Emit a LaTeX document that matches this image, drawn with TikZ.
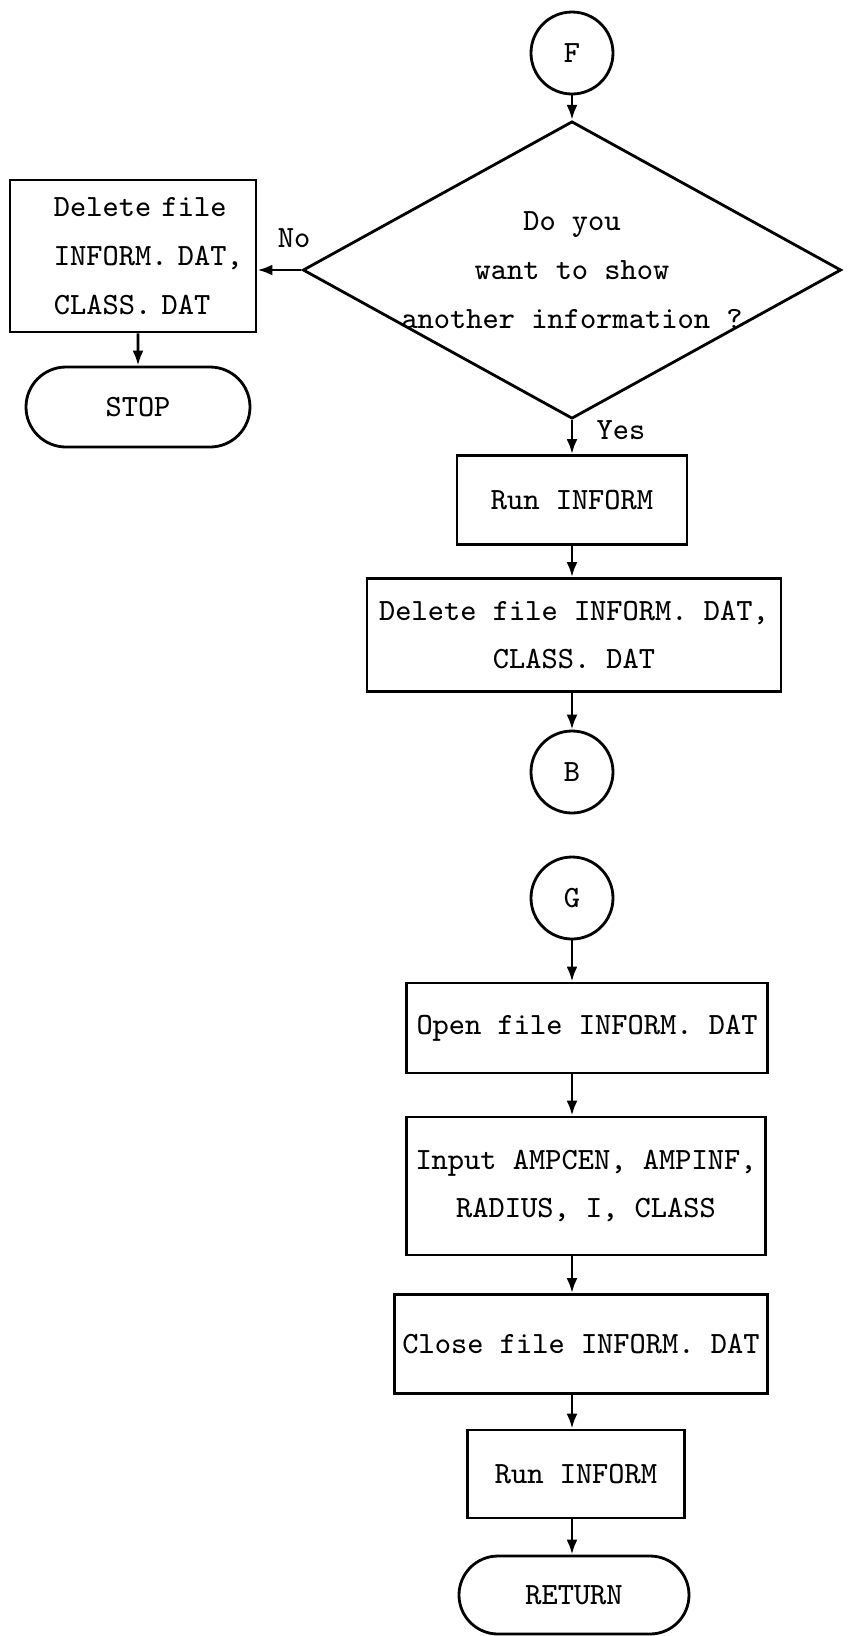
\documentclass[tikz,border=0pt]{standalone}
\usetikzlibrary{shapes.geometric,shapes.misc,arrows.meta}

\begin{document}
\begin{tikzpicture}
        \tikzset{
            txt/.style={font=\ttfamily\frenchspacing\fontsize{8.8pt}{13.9pt}\selectfont},
            proc/.style={rectangle, draw, line width=0.8pt, txt, align=center, inner sep=0pt},
            conn/.style={circle, draw, line width=0.8pt, minimum size=0.82cm, txt, inner sep=0pt},
            term/.style={rounded rectangle, draw, line width=0.8pt, txt, inner sep=0pt},
            dec/.style={diamond, draw, line width=0.8pt, txt, align=center,
            aspect=1.81, inner xsep=-0.07cm, inner ysep=0pt},
            c1/.style={-{Latex[length=0.15cm,width=0.11cm]}, line width=0.8pt}
            }

            \useasboundingbox (0,0) rectangle (8.62,-16.36);

            \node[conn] (n1) at (5.72,-0.53) {F};
            \node[dec] (n2) at (5.72,-2.70) {Do you\\want to show\\another information ?};
            \node[proc, minimum width=2.46cm, minimum height=1.52cm, align=left,
                text width=1.58cm] (n3) at (1.33,-2.56)
                {\mbox{Delete file}\\\mbox{INFORM. DAT,}\\\mbox{CLASS. DAT}};
            \node[term, minimum width=2.24cm, minimum height=0.80cm] (n4) at (1.38,-4.07) {STOP};
            \node[proc, minimum width=2.30cm, minimum height=0.89cm] (n5) at (5.72,-5.00) {Run INFORM};
            \node[proc, minimum width=4.14cm, minimum height=1.13cm] (n6) at (5.74,-6.35) {Delete file INFORM. DAT,\\CLASS. DAT};
            \node[conn] (n7) at (5.72,-7.72) {B};
            \node[conn] (n8) at (5.72,-8.98) {G};
            \node[proc, minimum width=3.61cm, minimum height=0.90cm] (n9) at (5.87,-10.28) {Open file INFORM. DAT};
            \node[proc, minimum width=3.59cm, minimum height=1.38cm] (n10) at (5.86,-11.86) {Input AMPCEN, AMPINF,\\RADIUS, I, CLASS};
            \node[proc, minimum width=3.73cm, minimum height=0.99cm] (n11) at (5.81,-13.44) {Close file INFORM. DAT};
            \node[proc, minimum width=2.17cm, minimum height=0.88cm] (n12) at (5.76,-14.74) {Run INFORM};
            \node[term, minimum width=2.30cm, minimum height=0.78cm] (n13) at (5.74,-15.95) {RETURN};

            \node[txt] (n14) at (2.94,-2.38) {No};
            \node[txt] (n15) at (6.21,-4.30) {Yes};

            \draw[c1] (n1) -- (n2);
            \draw[c1] (n2.west) -- (n2.west -| n3.east);
            \draw[c1] (n3.south -| n4) -- (n4);
            \draw[c1] (n2.south) -- (n2.south |- n5.north);
            \draw[c1] (n5.south -| n1) -- (n6.north -| n1);
            \draw[c1] (n6.south -| n1) -- (n7);
            \draw[c1] (n8) -- (n8 |- n9.north);
            \draw[c1] (n9.south -| n8) -- (n10.north -| n8);
            \draw[c1] (n10.south -| n8) -- (n11.north -| n8);
            \draw[c1] (n11.south -| n8) -- (n12.north -| n8);
            \draw[c1] (n12.south -| n8) -- (n13.north -| n8);
        \end{tikzpicture}
\end{document}
